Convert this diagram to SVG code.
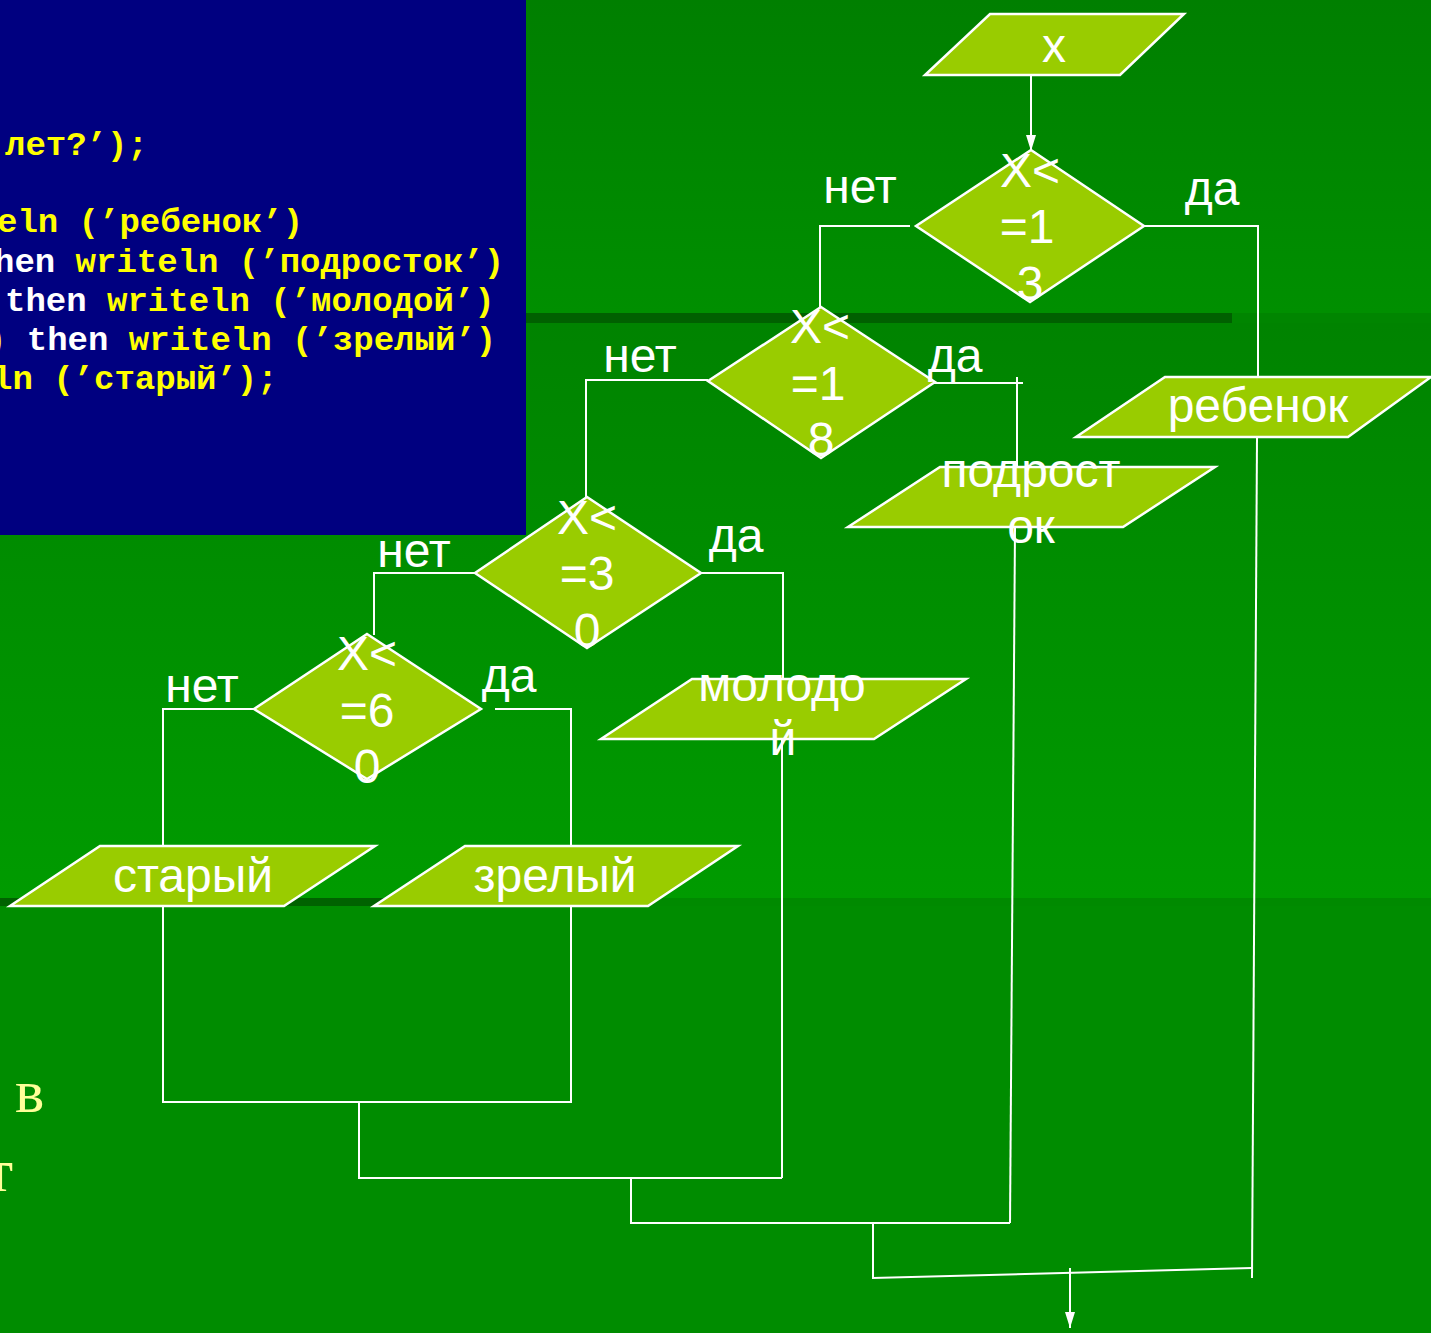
<svg xmlns="http://www.w3.org/2000/svg" width="1431" height="1333" viewBox="0 0 1431 1333">
<defs>
<linearGradient id="g1" x1="0" y1="0" x2="0" y2="1"><stop offset="0" stop-color="#007F00"/><stop offset="1" stop-color="#008F00"/></linearGradient>
<linearGradient id="g2" x1="0" y1="0" x2="0" y2="1"><stop offset="0" stop-color="#008300"/><stop offset="1" stop-color="#009B00"/></linearGradient>
<marker id="arr" viewBox="0 0 16 10" refX="16" refY="5" markerWidth="8" markerHeight="5" markerUnits="strokeWidth" orient="auto"><path d="M0,0 L16,5 L0,10 z" fill="#FFFFFF"/></marker>
<style>
.shape{fill:#99CC00;stroke:#FFFFFF;stroke-width:2.5;stroke-linejoin:miter}
.t{font-family:"Liberation Sans",Arial,sans-serif;font-size:48px;fill:#FFFFFF;text-anchor:middle}
.lbl{font-family:"Liberation Sans",Arial,sans-serif;font-size:48px;fill:#FFFFFF;text-anchor:middle}
.conn{fill:none;stroke:#FFFFFF;stroke-width:2}
.code{font-family:"Liberation Mono","Courier New",monospace;font-size:34px;font-weight:bold;fill:#FFFF00}
.kw{fill:#FFFFFF}
.side{font-family:"Liberation Serif","Times New Roman",serif;font-size:62px;fill:#FFFF99}
</style>
</defs>
<g id="background">
<rect x="0" y="0" width="1431" height="1333" fill="#008C00"/>
<rect x="0" y="0" width="1431" height="313" fill="url(#g1)"/>
<rect x="0" y="313" width="1431" height="10" fill="#008500"/>
<rect x="506" y="313" width="726" height="10" fill="#006000"/>
<rect x="0" y="323" width="1431" height="575" fill="url(#g2)"/>
<rect x="0" y="898" width="1431" height="8" fill="#008A00"/>
<rect x="0" y="898" width="440" height="8" fill="#006200"/>
</g>
<g id="code-panel">
<rect x="0" y="0" width="526" height="535" fill="#000080"/>
<text class="code" x="5" y="155">лет?’);</text>
<text class="code" x="-3" y="232">eln (’ребенок’)</text>
<text class="code" x="-6" y="272"><tspan class="kw">hen</tspan> writeln (’подросток’)</text>
<text class="code" x="5" y="311"><tspan class="kw">then</tspan> writeln (’молодой’)</text>
<text class="code" x="-14" y="350">) <tspan class="kw">then</tspan> writeln (’зрелый’)</text>
<text class="code" x="-8" y="389">ln (’старый’);</text>
</g>
<g id="side-text">
<text class="side" x="15" y="1112">в</text>
<text class="side" x="-14" y="1191">т</text>
</g>
<g id="connectors">
<line class="conn" x1="1031" y1="75" x2="1031" y2="151" marker-end="url(#arr)"/>
<polyline class="conn" points="910,226 820,226 820,307"/>
<polyline class="conn" points="1144,226 1258,226 1258,376"/>
<polyline class="conn" points="1257,437 1252,1278"/>
<polyline class="conn" points="708,380 586,380 586,497"/>
<polyline class="conn" points="934,383 1023,383"/>
<polyline class="conn" points="1017,377 1017,467"/>
<polyline class="conn" points="1015,527 1010,1223"/>
<polyline class="conn" points="475,573 374,573 374,635"/>
<polyline class="conn" points="701,573 783,573 783,679"/>
<polyline class="conn" points="782,739 782,1178"/>
<polyline class="conn" points="254,709 163,709 163,846"/>
<polyline class="conn" points="495,709 571,709 571,846"/>
<polyline class="conn" points="163,906 163,1102 571,1102 571,906"/>
<polyline class="conn" points="359,1102 359,1178 782,1178"/>
<polyline class="conn" points="631,1178 631,1223 1010,1223"/>
<polyline class="conn" points="873,1223 873,1278 1252,1268"/>
<line class="conn" x1="1070" y1="1268" x2="1070" y2="1328" marker-end="url(#arr)"/>
</g>
<g id="node-x">
<polygon class="shape" points="990,14 1184,14 1120,75 925,75"/>
<text class="t" x="1054" y="62">x</text>
</g>
<g id="node-d1">
<polygon class="shape" points="1031,150 1144,226 1030,302 916,226"/>
<text class="t" x="1030" y="187">X&lt;</text>
<text class="t" x="1027" y="243">=1</text>
<text class="t" x="1030" y="300">3</text>
</g>
<g id="node-d2">
<polygon class="shape" points="821,307 935,382 821,458 708,381"/>
<text class="t" x="820" y="343">X&lt;</text>
<text class="t" x="818" y="400">=1</text>
<text class="t" x="821" y="456">8</text>
</g>
<g id="node-d3">
<polygon class="shape" points="587,497 701,573 587,648 475,573"/>
<text class="t" x="587" y="534">X&lt;</text>
<text class="t" x="587" y="590">=3</text>
<text class="t" x="587" y="647">0</text>
</g>
<g id="node-d4">
<polygon class="shape" points="367,634 481,709 367,779 254,709"/>
<text class="t" x="367" y="670">X&lt;</text>
<text class="t" x="367" y="727">=6</text>
<text class="t" x="367" y="783">0</text>
</g>
<g id="node-child">
<polygon class="shape" points="1165,377 1431,377 1348,437 1076,437"/>
<text class="t" x="1258" y="422">ребенок</text>
</g>
<g id="node-teen">
<polygon class="shape" points="940,467 1215,467 1123,527 848,527"/>
<text class="t" x="1031" y="487">подрост</text>
<text class="t" x="1031" y="543">ок</text>
</g>
<g id="node-young">
<polygon class="shape" points="692,679 966,679 874,739 601,739"/>
<text class="t" x="782" y="701">молодо</text>
<text class="t" x="783" y="755">й</text>
</g>
<g id="node-old">
<polygon class="shape" points="100,846 375,846 284,906 10,906"/>
<text class="t" x="193" y="892">старый</text>
</g>
<g id="node-mature">
<polygon class="shape" points="465,846 738,846 648,906 374,906"/>
<text class="t" x="555" y="892">зрелый</text>
</g>
<g id="labels">
<text class="lbl" x="860" y="203">нет</text>
<text class="lbl" x="1212" y="205">да</text>
<text class="lbl" x="640" y="372">нет</text>
<text class="lbl" x="955" y="372">да</text>
<text class="lbl" x="414" y="567">нет</text>
<text class="lbl" x="736" y="552">да</text>
<text class="lbl" x="202" y="702">нет</text>
<text class="lbl" x="509" y="692">да</text>
</g>
</svg>
